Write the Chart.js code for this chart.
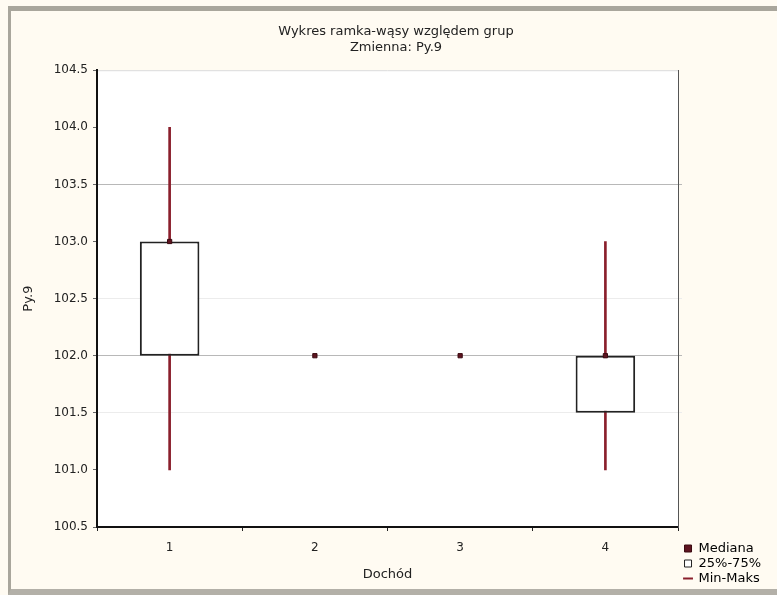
<!DOCTYPE html>
<html>
<head>
<meta charset="utf-8">
<script src="https://cdn.jsdelivr.net/npm/chart.js@4/dist/chart.umd.min.js"></script>
<style>
  html, body { margin: 0; padding: 0; background: #fffbf2; }
  #frame {
    position: absolute; left: 8px; top: 6px;
    width: 766px; height: 578px;
    border-top: 5px solid #a9a69c;
    border-left: 3px solid #a9a69c;
    border-bottom: 6px solid #b3b0a8;
    background: #fffbf2;
  }
  canvas { display: block; }
</style>
</head>
<body>
<div id="frame"><canvas id="boxChart" width="766" height="578"></canvas></div>
<script>
// Box-whisker data per group
var groups = ['1', '2', '3', '4'];
var minVals = [101.0, 102.0, 102.0, 101.0];
var maxVals = [104.0, 102.0, 102.0, 103.0];
var q1Vals = [102.0, 102.0, 102.0, 101.5];
var q3Vals = [103.0, 102.0, 102.0, 102.0];
var medianVals = [103.0, 102.0, 102.0, 102.0];

var whiskerColor = '#8a1f2c';
var boxColor = '#222222';
var fontFamily = 'DejaVu Sans';

function pairs(a, b) {
    return a.map(function(v, i) { return [v, b[i]]; });
}

// white plot area + light top edge
var plotFrame = {
    id: 'plotFrame',
    beforeDraw: function(chart) {
        var a = chart.chartArea, ctx = chart.ctx;
        ctx.save();
        ctx.fillStyle = '#ffffff';
        ctx.fillRect(a.left, a.top, a.right - a.left, a.bottom - a.top);
        ctx.strokeStyle = '#dadada';
        ctx.lineWidth = 1;
        ctx.beginPath();
        ctx.moveTo(a.left, a.top + 0.5);
        ctx.lineTo(a.right, a.top + 0.5);
        ctx.stroke();
        ctx.restore();
    }
};

function gridColor(ctx) {
    var v = ctx.tick ? ctx.tick.value : null;
    if (v === 103.5 || v === 102) return '#b8b8b8';
    if (v === 102.5 || v === 101.5) return '#ececec';
    return 'rgba(0,0,0,0)';
}

document.addEventListener('DOMContentLoaded', function() {
    var ctx = document.getElementById('boxChart').getContext('2d');
    var boxChart = new Chart(ctx, {
        type: 'bar',
        data: {
            labels: groups,
            datasets: [{
                type: 'line',
                label: 'Mediana',
                data: medianVals,
                showLine: false,
                pointStyle: 'rect',
                pointRadius: 3,
                pointBackgroundColor: '#5e1420',
                pointBorderColor: '#3a0a10',
                pointBorderWidth: 1,
                order: 0
            }, {
                label: '25%-75%',
                data: pairs(q1Vals, q3Vals),
                backgroundColor: '#ffffff',
                borderColor: boxColor,
                borderWidth: 2,
                borderSkipped: false,
                grouped: false,
                categoryPercentage: 1,
                barPercentage: 0.41,
                order: 1
            }, {
                label: 'Min-Maks',
                data: pairs(minVals, maxVals),
                backgroundColor: whiskerColor,
                borderWidth: 0,
                grouped: false,
                categoryPercentage: 1,
                barPercentage: 1,
                maxBarThickness: 2,
                order: 2
            }]
        },
        options: {
            responsive: false,
            animation: false,
            layout: { padding: { left: 10, right: 6, bottom: 2, top: 0 } },
            plugins: {
                title: {
                    display: true,
                    text: ['Wykres ramka-wąsy względem grup', 'Zmienna: Py.9'],
                    color: '#222',
                    font: { family: fontFamily, size: 13, weight: 'normal', lineHeight: 1.2 },
                    padding: { top: 13, bottom: 15 }
                },
                legend: {
                    position: 'right',
                    align: 'end',
                    labels: {
                        usePointStyle: true,
                        boxWidth: 8,
                        boxHeight: 7,
                        padding: 2,
                        color: '#222',
                        font: { family: fontFamily, size: 13 },
                        generateLabels: function(chart) {
                            return [{
                                text: 'Mediana', pointStyle: 'rect', fillStyle: '#5e1420',
                                strokeStyle: '#3a0a10', lineWidth: 1, datasetIndex: 0
                            }, {
                                text: '25%-75%', pointStyle: 'rect', fillStyle: '#ffffff',
                                strokeStyle: boxColor, lineWidth: 1, datasetIndex: 1
                            }, {
                                text: 'Min-Maks', pointStyle: 'line', fillStyle: whiskerColor,
                                strokeStyle: whiskerColor, lineWidth: 2, datasetIndex: 2
                            }];
                        }
                    },
                    onClick: null
                },
                tooltip: { enabled: false }
            },
            scales: {
                x: {
                    afterFit: function(scale) { scale.height = 60; },
                    grid: { display: true, drawOnChartArea: false, tickLength: 4, color: '#222' },
                    border: { color: '#111', width: 2 },
                    ticks: { color: '#222', padding: 10, font: { family: fontFamily, size: 12 } },
                    title: {
                        display: true, text: 'Dochód', color: '#222',
                        font: { family: fontFamily, size: 13 },
                        padding: { top: 11, bottom: 5 }
                    }
                },
                y: {
                    min: 100.5,
                    max: 104.5,
                    afterFit: function(scale) { scale.width = 76; },
                    grid: { color: gridColor, tickColor: '#666', tickLength: 4 },
                    border: { color: '#111', width: 2 },
                    ticks: {
                        stepSize: 0.5,
                        padding: 5,
                        color: '#222',
                        font: { family: fontFamily, size: 12 },
                        callback: function(v) { return Number(v).toFixed(1); }
                    },
                    title: {
                        display: true, text: 'Py.9', color: '#222',
                        font: { family: fontFamily, size: 13 },
                        padding: { top: 0, bottom: 0 }
                    }
                },
                y2: {
                    position: 'right',
                    min: 100.5,
                    max: 104.5,
                    grid: { drawOnChartArea: false, tickLength: 4, tickColor: gridColor },
                    border: { color: '#555', width: 1 },
                    ticks: { stepSize: 0.5, display: false }
                }
            }
        },
        plugins: [plotFrame]
    });
});
</script>
</body>
</html>
